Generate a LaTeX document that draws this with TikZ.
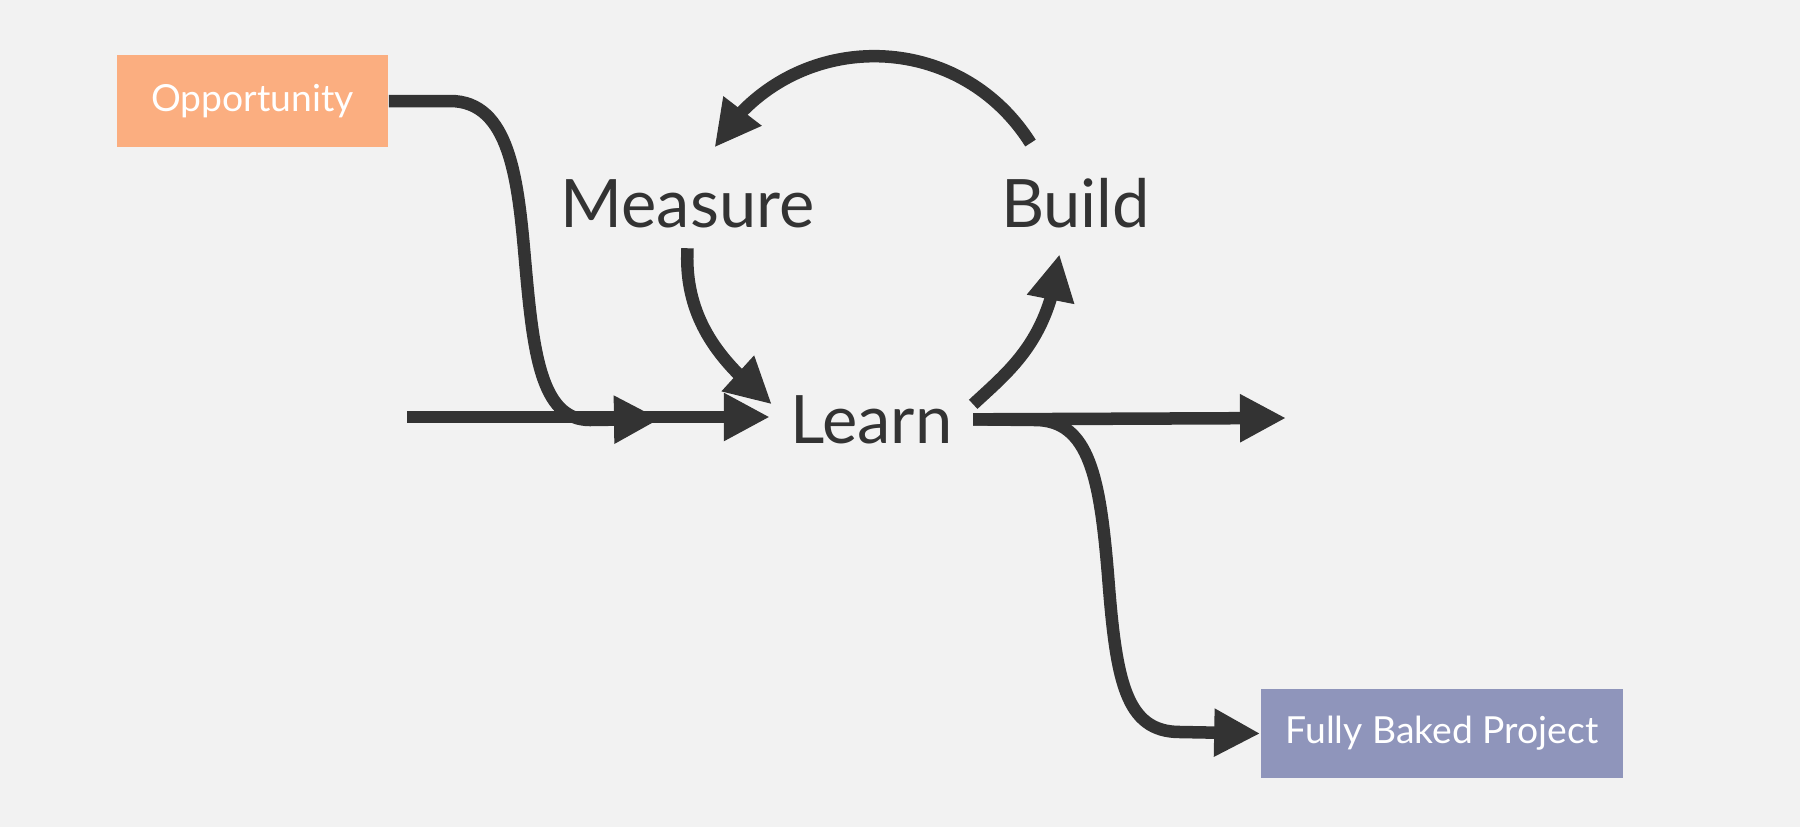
\documentclass[tikz,border=0pt]{standalone}
\usepackage{fontspec}
\setmainfont{Lato}
\usepackage{xcolor}
\usepackage{tikz}
\usetikzlibrary{arrows.meta,bending,positioning,calc}
\definecolor{inkgray}{HTML}{333333}
\definecolor{paperbg}{HTML}{F2F2F2}
\definecolor{oppfill}{HTML}{FBAE80}
\definecolor{bakedfill}{HTML}{8F95BB}
\tikzset{
  loopbox/.style={inner sep=0pt, text=white, font=\fontsize{10.6}{12}\selectfont},
  loopword/.style={anchor=base, inner xsep=0.2cm, inner ysep=0.2cm, text=inkgray, font=\fontsize{19}{23}\selectfont},
  looparrow/.style={-{Triangle[length=0.46cm,width=0.45cm]}, line width=0.125cm, draw=inkgray}
}

\begin{document}
\begin{tikzpicture}[x=0.01cm, y=-0.01cm]
  \fill[paperbg] (0,0) rectangle (1800,827);
  \useasboundingbox (0,0) rectangle (1800,827);

  \node[loopbox, fill=oppfill, minimum width=2.71cm, minimum height=0.92cm] (opp) at (252.5,101) {Opportunity};
  \node[loopbox, fill=bakedfill, minimum width=3.62cm, minimum height=0.89cm] (baked) at (1442,733.5) {Fully Baked Project};
  \node[loopword] (measure) at (687.5,227) {Measure};
  \node[loopword] (build) at (1075.5,227) {Build};
  \node[loopword] (learn) at (871.5,443) {Learn};
  \coordinate (in) at (407,417);
  \coordinate (join) at (660,419);
  \coordinate (out) at (1286,418);

  \draw[looparrow] (in) -- (in -| learn.west);
  \draw[looparrow] (opp.east) -- (450,101) .. controls (510,101) and (518,180) .. (525,260) .. controls (533,350) and (540,420) .. (590,420) -- (join);
  \draw[looparrow] (measure.south) .. controls (683,330) and (735,373) .. ($(learn.west)+(2,-15)$);
  \draw[looparrow] ($(learn.east)+(0,-15)$) .. controls (1010,370) and (1050,340) .. ($(build.south)+(-16,6)$);
  \draw[looparrow] ($(build.north)+(-45,-14)$) .. controls (956,25) and (786,28) .. ($(measure.north)+(27,-11)$);
  \draw[looparrow] (learn.east) -- (out);
  \draw[looparrow] (learn.east) -- (1035,420) .. controls (1090,420) and (1100,480) .. (1108,575) .. controls (1116,680) and (1125,732) .. (1180,732) -- (baked.west);
\end{tikzpicture}
\end{document}
